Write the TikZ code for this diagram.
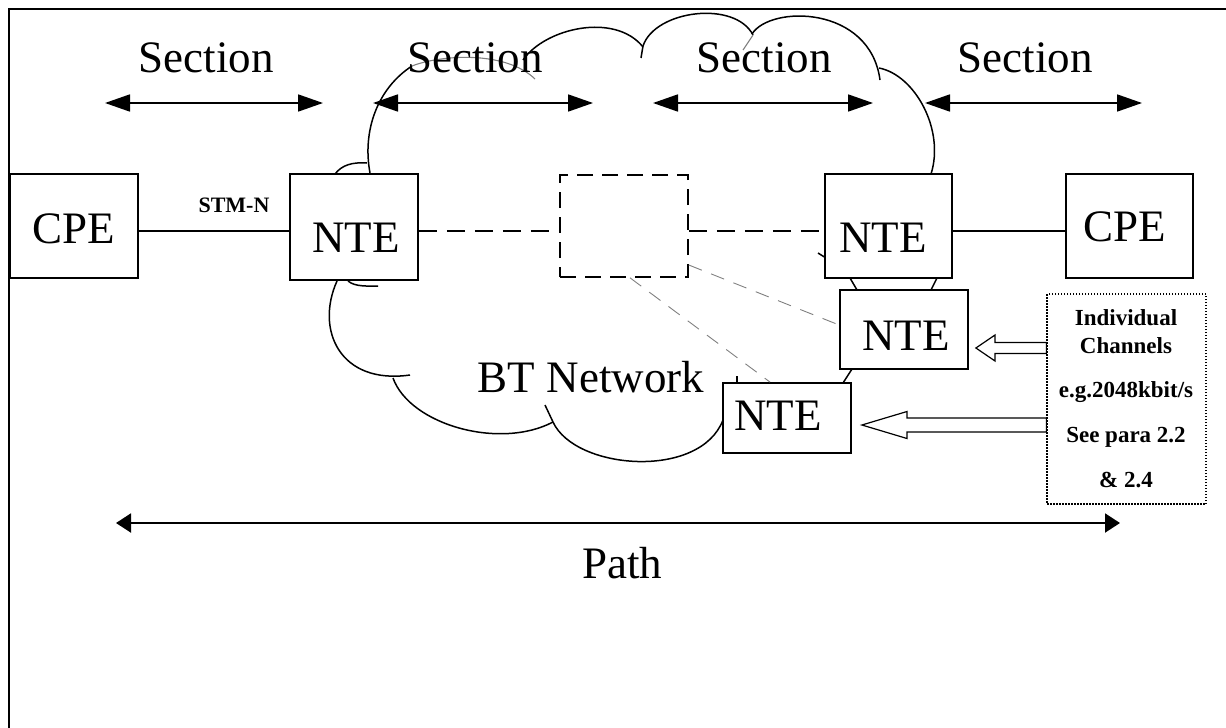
\documentclass[tikz,border=0pt]{standalone}
\usepackage{fontspec}
\setmainfont{Liberation Serif}
\usetikzlibrary{arrows.meta,calc}
\begin{document}
\begin{tikzpicture}[x=1pt,y=-1pt,
  box/.style={draw,line width=1.8pt,fill=white,inner sep=0pt},
  big/.style={font=\fontsize{45}{45}\selectfont,inner sep=0pt,anchor=base},
  stm/.style={font=\bfseries\fontsize{22}{22}\selectfont,inner sep=0pt,anchor=base},
  info/.style={font=\bfseries\fontsize{23}{23}\selectfont,inner sep=0pt,anchor=base},
  cloudline/.style={line width=1.5pt},
  cloudgray/.style={line width=1.1pt,gray},
  secarrow/.style={line width=1.8pt,{Triangle[length=25pt,width=17pt]}-{Triangle[length=25pt,width=17pt]}},
  patharrow/.style={line width=2pt,{Triangle[length=15pt,width=19pt]}-{Triangle[length=15pt,width=19pt]}},
  solidlink/.style={line width=1.5pt},
  dashlink/.style={line width=1.6pt,dash pattern=on 18pt off 10pt},
  thindash/.style={line width=0.9pt,gray,dash pattern=on 14pt off 10pt},
  hollow/.style={line width=1.2pt,fill=white,line join=miter}
]
\useasboundingbox (0,0) rectangle (1226,728);
% frame
\draw[line width=2.2pt] (9,728) -- (9,9) -- (1226,9);

% cloud
\draw[cloudline] (370,173) .. controls (362,130) and (378,88) .. (412,66);
\draw[cloudgray] (412,66) .. controls (440,55) and (505,50) .. (535,79);
\draw[cloudline] (523,60) .. controls (545,28) and (615,12) .. (643,47);
\draw[cloudline] (641,58) -- (643,46);
\draw[cloudline] (643,46) .. controls (655,10) and (735,0) .. (753,35);
\draw[cloudgray] (753,35) -- (743,50);
\draw[cloudline] (752,34) .. controls (770,5) and (870,5) .. (880,80);
\draw[cloudline] (879,68) .. controls (915,75) and (945,130) .. (931,174);
\draw[cloudline] (850,278) -- (857,290);
\draw[cloudline] (937,278) -- (931,290);
\draw[cloudline] (852,369) -- (843,383);
\draw[cloudline] (737,376) -- (737,383);
\draw[cloudline] (818,253) -- (826,258);
\draw[cloudline] (553,422) .. controls (575,470) and (700,480) .. (723,420);
\draw[cloudline] (545,405) -- (553,422);
\draw[cloudline] (393,378) .. controls (410,425) and (500,450) .. (553,422);
\draw[cloudline] (337,281) .. controls (315,330) and (340,385) .. (410,375);
\draw[cloudline] (348,281) .. controls (355,287) and (368,286) .. (378,286);
\draw[cloudline] (335,174) .. controls (342,165) and (352,162) .. (367,163);

% boxes
\node[box,minimum width=128pt,minimum height=104pt] (cpe1) at (74,226) {};
\node[box,minimum width=128pt,minimum height=106pt] (nte1) at (354,227) {};
\node[draw,line width=1.6pt,dash pattern=on 16pt off 9pt,inner sep=0pt,minimum width=128pt,minimum height=102pt] (dbox) at (624,226) {};
\node[box,minimum width=127pt,minimum height=104pt] (nte2) at (888.5,226) {};
\node[box,minimum width=127pt,minimum height=104pt] (cpe2) at (1129.5,226) {};
\node[box,minimum width=128pt,minimum height=79pt] (nte3) at (904,329.5) {};
\node[box,minimum width=128pt,minimum height=70pt] (nte4) at (787,418) {};
\node[draw,line width=1.3pt,dash pattern=on 1.5pt off 1.5pt,inner sep=0pt,minimum width=159pt,minimum height=210pt] (infobox) at (1126.5,399) {};

% box texts
\node[big] (cpe1t) at (74,243) {CPE};
\node[big] (nte1t) at (356,252) {NTE};
\node[big] (nte2t) at (883,252) {NTE};
\node[big] (cpe2t) at (1125,241) {CPE};
\node[big] (nte3t) at (906,350) {NTE};
\node[big] (nte4t) at (778,430) {NTE};
\node[big] (btnet) at (591,392) {BT Network};
\node[stm] (stmn) at (234,212) {STM-N};

% info texts
\node[info] (i1) at (1126,325) {Individual};
\node[info] (i2) at (1126,353) {Channels};
\node[info] (i3) at (1126,397) {e.g.2048kbit/s};
\node[info] (i4) at (1126,442) {See para 2.2};
\node[info] (i5) at (1126,487) {\& 2.4};

% connectors
\draw[solidlink] (cpe1.east |- 0,231) -- (nte1.west |- 0,231);
\draw[dashlink] (nte1.east |- 0,231) -- (dbox.west |- 0,231);
\draw[dashlink] (dbox.east |- 0,231) -- (nte2.west |- 0,231);
\draw[solidlink] (nte2.east |- 0,231) -- (cpe2.west |- 0,231);
\draw[thindash] (dbox.east |- 0,265) -- (nte3.west |- 0,325);
\draw[thindash] (dbox.south -| 630,0) -- (nte4.north -| 770,0);

% hollow arrows
\coordinate (tip1) at ($(nte3.east |- 0,348)+(7,0)$);
\coordinate (tip2) at ($(nte4.east |- 0,425)+(10,0)$);
\draw[hollow] (infobox.west |- 0,342.5) -- (995,342.5) -- (995,335) -- (tip1) -- (995,361) -- (995,353.5) -- (infobox.west |- 0,353.5) -- cycle;
\draw[hollow] (infobox.west |- 0,418) -- (907,418) -- (907,411.5) -- (tip2) -- (907,438.5) -- (907,432) -- (infobox.west |- 0,432) -- cycle;

% section labels and arrows
\node[big] (s1) at (206,72) {Section};
\node[big] (s2) at (475,72) {Section};
\node[big] (s3) at (764,72) {Section};
\node[big] (s4) at (1025,72) {Section};
\coordinate (a1l) at (105,103); \coordinate (a1r) at (323,103);
\coordinate (a2l) at (373,103); \coordinate (a2r) at (593,103);
\coordinate (a3l) at (653,103); \coordinate (a3r) at (873,103);
\coordinate (a4l) at (925,103); \coordinate (a4r) at (1142,103);
\draw[secarrow] (a1l) -- (a1r);
\draw[secarrow] (a2l) -- (a2r);
\draw[secarrow] (a3l) -- (a3r);
\draw[secarrow] (a4l) -- (a4r);

% path
\coordinate (pl) at (116,523); \coordinate (pr) at (1120,523);
\draw[patharrow] (pl) -- (pr);
\node[big] (path) at (622,578) {Path};
\end{tikzpicture}
\end{document}
